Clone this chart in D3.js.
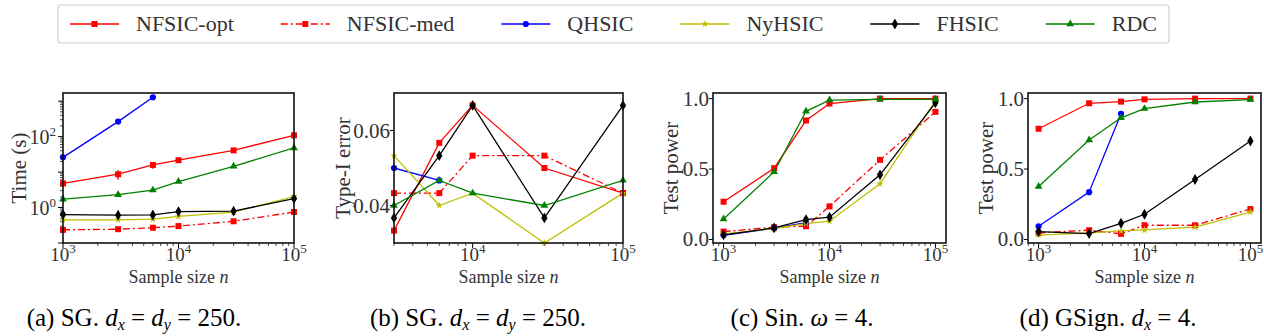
<!DOCTYPE html>
<html>
<head>
<meta charset="utf-8">
<script src="https://cdn.jsdelivr.net/npm/d3@7"></script>
<style>
  html, body { margin: 0; padding: 0; background: #fff; }
</style>
</head>
<body>
<svg id="chart" width="1264" height="336"></svg>
<script>
// sample sizes
const nFull = [1000, 3000, 6000, 10000, 30000, 100000];
const nType1 = [3000, 6000, 10000, 30000, 100000];
const nQhsic = [1000, 3000, 6000];
const nQhsicType1 = [3000, 6000];

const methods = ['NFSIC-opt', 'NFSIC-med', 'QHSIC', 'NyHSIC', 'FHSIC', 'RDC'];

// (a) runtime in seconds
const timeNfsicOpt = [4.8, 8.7, 15.9, 21.6, 41, 109];
const timeNfsicOptErr = [0.4, 2.6, 3.5, 3.0, 4, 8];
const timeNfsicMed = [0.235, 0.245, 0.27, 0.30, 0.41, 0.75];
const timeNfsicMedErr = [0.01, 0.03, 0.04, 0.05, 0.05, 0.04];
const timeQhsic = [26, 265, 1290];
const timeNyhsic = [0.45, 0.45, 0.47, 0.56, 0.74, 2.04];
const timeFhsic = [0.635, 0.61, 0.62, 0.77, 0.79, 1.79];
const timeRdc = [1.72, 2.3, 3.1, 5.4, 14.6, 48];

// (b) type-I error
const t1NfsicOpt = [0.0333, 0.0567, 0.0667, 0.05, 0.0433];
const t1NfsicMed = [0.0433, 0.0433, 0.0533, 0.0533, 0.0433];
const t1Qhsic = [0.05, 0.0467];
const t1Nyhsic = [0.0533, 0.04, 0.0433, 0.03, 0.0433];
const t1Fhsic = [0.0367, 0.0533, 0.0667, 0.0367, 0.0667];
const t1Rdc = [0.04, 0.0467, 0.0433, 0.04, 0.0467];

// (c) test power, Sin
const sinNfsicOpt = [0.268, 0.506, 0.845, 0.965, 1.0, 1.0];
const sinNfsicMed = [0.056, 0.087, 0.094, 0.235, 0.565, 0.906];
const sinQhsic = [0.03, 0.08, 0.12];
const sinNyhsic = [0.04, 0.078, 0.113, 0.13, 0.395, 0.984];
const sinFhsic = [0.033, 0.082, 0.141, 0.158, 0.459, 0.97];
const sinRdc = [0.146, 0.48, 0.91, 0.99, 0.995, 0.995];

// (d) test power, GSign
const gsNfsicOpt = [0.786, 0.967, 0.979, 0.995, 1.0, 1.0];
const gsNfsicMed = [0.047, 0.066, 0.04, 0.101, 0.101, 0.216];
const gsQhsic = [0.094, 0.336, 0.892];
const gsNyhsic = [0.031, 0.047, 0.061, 0.068, 0.087, 0.195];
const gsFhsic = [0.056, 0.042, 0.115, 0.179, 0.426, 0.699];
const gsRdc = [0.376, 0.706, 0.864, 0.929, 0.976, 0.993];

const yTicksTime = [1, 100];
const yTicksType1 = [0.04, 0.06];
const yTicksPower = [0, 0.5, 1.0];
const captions = ['(a) SG. ', '(b) SG. ', '(c) Sin. ', '(d) GSign. '];

const FONT = '"Liberation Serif", "DejaVu Serif", serif';

const styles = {
    'NFSIC-opt': { color: '#ff0000', dash: null, symbol: d3.symbolSquare, size: 36 },
    'NFSIC-med': { color: '#ff0000', dash: '7,3,2,3', symbol: d3.symbolSquare, size: 36 },
    'QHSIC': { color: '#0000ff', dash: null, symbol: d3.symbolCircle, size: 30 },
    'NyHSIC': { color: '#bfbf00', dash: null, symbol: d3.symbolStar, size: 18 },
    'FHSIC': { color: '#000000', dash: null, symbol: d3.symbolDiamond, size: 34 },
    'RDC': { color: '#008000', dash: null, symbol: d3.symbolTriangle, size: 26 },
};

const svg = d3.select('#chart').attr('font-family', FONT);
const plotTop = 93, plotBottom = 243;

const panels = [
    {
        x0: 63, x1: 294, xDomain: [1e3, 1e5], yLog: true, yDomain: [0.1, 1700],
        yTicks: yTicksTime, ylabel: 'Time (s)', ylabelX: 19, capX: 134,
        series: [
            { m: 'NFSIC-opt', n: nFull, v: timeNfsicOpt, e: timeNfsicOptErr },
            { m: 'NFSIC-med', n: nFull, v: timeNfsicMed, e: timeNfsicMedErr },
            { m: 'QHSIC', n: nQhsic, v: timeQhsic },
            { m: 'NyHSIC', n: nFull, v: timeNyhsic },
            { m: 'FHSIC', n: nFull, v: timeFhsic },
            { m: 'RDC', n: nFull, v: timeRdc },
        ],
    },
    {
        x0: 394, x1: 623, xDomain: [3000, 1e5], yLog: false, yDomain: [0.03, 0.07],
        yTicks: yTicksType1, ylabel: 'Type-I error', ylabelX: 343, capX: 478, yFmt: d3.format('.2f'),
        series: [
            { m: 'NFSIC-opt', n: nType1, v: t1NfsicOpt },
            { m: 'NFSIC-med', n: nType1, v: t1NfsicMed },
            { m: 'QHSIC', n: nQhsicType1, v: t1Qhsic },
            { m: 'NyHSIC', n: nType1, v: t1Nyhsic },
            { m: 'FHSIC', n: nType1, v: t1Fhsic },
            { m: 'RDC', n: nType1, v: t1Rdc },
        ],
    },
    {
        x0: 713, x1: 946, xDomain: [Math.pow(10, 2.9), Math.pow(10, 5.1)], yLog: false, yDomain: [-0.025, 1.04],
        yTicks: yTicksPower, ylabel: 'Test power', ylabelX: 671, capX: 802, yFmt: d3.format('.1f'),
        series: [
            { m: 'NFSIC-opt', n: nFull, v: sinNfsicOpt },
            { m: 'NFSIC-med', n: nFull, v: sinNfsicMed },
            { m: 'QHSIC', n: nQhsic, v: sinQhsic },
            { m: 'NyHSIC', n: nFull, v: sinNyhsic },
            { m: 'FHSIC', n: nFull, v: sinFhsic },
            { m: 'RDC', n: nFull, v: sinRdc },
        ],
    },
    {
        x0: 1028, x1: 1261, xDomain: [Math.pow(10, 2.9), Math.pow(10, 5.1)], yLog: false, yDomain: [-0.025, 1.04],
        yTicks: yTicksPower, ylabel: 'Test power', ylabelX: 986, capX: 1108, yFmt: d3.format('.1f'),
        series: [
            { m: 'NFSIC-opt', n: nFull, v: gsNfsicOpt },
            { m: 'NFSIC-med', n: nFull, v: gsNfsicMed },
            { m: 'QHSIC', n: nQhsic, v: gsQhsic },
            { m: 'NyHSIC', n: nFull, v: gsNyhsic },
            { m: 'FHSIC', n: nFull, v: gsFhsic },
            { m: 'RDC', n: nFull, v: gsRdc },
        ],
    },
];

function powLabel(sel, exp) {
    sel.text('10');
    sel.append('tspan').attr('dy', -8).attr('font-size', 13).text(exp);
}

panels.forEach((p, pi) => {
    const g = svg.append('g');
    const x = d3.scaleLog().domain(p.xDomain).range([p.x0, p.x1]);
    const y = (p.yLog ? d3.scaleLog() : d3.scaleLinear()).domain(p.yDomain).range([plotBottom, plotTop]);

    const clipId = 'clip' + pi;
    svg.append('clipPath').attr('id', clipId)
        .append('rect').attr('x', p.x0).attr('y', plotTop).attr('width', p.x1 - p.x0).attr('height', plotBottom - plotTop);

    // X axis ticks (log, major + minor)
    const xMinor = [];
    for (let k = 2; k <= 5; k++) for (let j = 1; j <= 9; j++) {
        const v = j * Math.pow(10, k);
        if (v >= p.xDomain[0] - 1e-6 && v <= p.xDomain[1] + 1e-6) xMinor.push(v);
    }
    xMinor.forEach(v => {
        const major = Math.abs(Math.log10(v) - Math.round(Math.log10(v))) < 1e-9;
        g.append('line').attr('x1', x(v)).attr('x2', x(v))
            .attr('y1', plotBottom).attr('y2', plotBottom + (major ? 5 : 3))
            .attr('stroke', '#000').attr('stroke-width', major ? 1 : 0.7);
        if (major) {
            g.append('text').attr('x', x(v)).attr('y', 261)
                .attr('text-anchor', 'middle').attr('font-size', 19).attr('fill', '#333')
                .call(powLabel, Math.round(Math.log10(v)));
        }
    });

    // Y axis ticks
    if (p.yLog) {
        for (let k = -1; k <= 3; k++) for (let j = 1; j <= 9; j++) {
            const v = j * Math.pow(10, k);
            if (v < p.yDomain[0] || v > p.yDomain[1]) continue;
            g.append('line').attr('x1', p.x0 - (j === 1 ? 5 : 3)).attr('x2', p.x0)
                .attr('y1', y(v)).attr('y2', y(v))
                .attr('stroke', '#000').attr('stroke-width', j === 1 ? 1 : 0.7);
        }
        p.yTicks.forEach(v => {
            g.append('text').attr('x', p.x0 - 7).attr('y', y(v) + 7)
                .attr('text-anchor', 'end').attr('font-size', 20).attr('fill', '#333')
                .call(powLabel, Math.round(Math.log10(v)));
        });
    } else {
        p.yTicks.forEach(v => {
            g.append('line').attr('x1', p.x0 - 4).attr('x2', p.x0)
                .attr('y1', y(v)).attr('y2', y(v)).attr('stroke', '#000');
            g.append('text').attr('x', p.x0 - 4).attr('y', y(v) + 7)
                .attr('text-anchor', 'end').attr('font-size', 21).attr('fill', '#333')
                .text(p.yFmt(v));
        });
    }

    // Series
    const plot = g.append('g').attr('clip-path', `url(#${clipId})`);
    p.series.forEach(s => {
        const st = styles[s.m];
        const pts = s.n.map((n, i) => ({ n, v: s.v[i], e: s.e ? s.e[i] : 0 }));
        if (s.e) {
            plot.selectAll(null).data(pts).enter().append('line')
                .attr('x1', d => x(d.n)).attr('x2', d => x(d.n))
                .attr('y1', d => y(d.v - d.e)).attr('y2', d => y(d.v + d.e))
                .attr('stroke', st.color).attr('stroke-width', 1.3);
        }
        plot.append('path').datum(pts)
            .attr('d', d3.line().x(d => x(d.n)).y(d => y(d.v)))
            .attr('fill', 'none').attr('stroke', st.color).attr('stroke-width', 1.3)
            .attr('stroke-dasharray', st.dash);
        g.selectAll(null).data(pts).enter().append('path')
            .attr('transform', d => `translate(${x(d.n)},${y(d.v)})`)
            .attr('d', d3.symbol().type(st.symbol).size(st.size))
            .attr('fill', st.color);
    });

    // Frame
    g.append('rect').attr('x', p.x0).attr('y', plotTop)
        .attr('width', p.x1 - p.x0).attr('height', plotBottom - plotTop)
        .attr('fill', 'none').attr('stroke', '#111').attr('stroke-width', 1.6);

    // Labels
    const xl = g.append('text').attr('x', (p.x0 + p.x1) / 2).attr('y', 283)
        .attr('text-anchor', 'middle').attr('font-size', 18).attr('fill', '#333')
        .text('Sample size ');
    xl.append('tspan').attr('font-style', 'italic').text('n');

    g.append('text').attr('transform', `translate(${p.ylabelX},${(plotTop + plotBottom) / 2}) rotate(-90)`)
        .attr('text-anchor', 'middle').attr('dy', '0.35em').attr('font-size', 21).attr('fill', '#333')
        .text(p.ylabel);

    // Caption
    const cap = g.append('text').attr('x', p.capX).attr('y', 326)
        .attr('text-anchor', 'middle').attr('font-size', 25).attr('fill', '#000')
        .text(captions[pi]);
    if (pi < 2) {
        cap.append('tspan').attr('font-style', 'italic').text('d');
        cap.append('tspan').attr('font-style', 'italic').attr('font-size', 16).attr('dy', 4).text('x');
        cap.append('tspan').attr('dy', -4).text(' = ');
        cap.append('tspan').attr('font-style', 'italic').text('d');
        cap.append('tspan').attr('font-style', 'italic').attr('font-size', 16).attr('dy', 4).text('y');
        cap.append('tspan').attr('dy', -4).text(' = 250.');
    } else if (pi === 2) {
        cap.append('tspan').attr('font-style', 'italic').text('ω');
        cap.append('tspan').text(' = 4.');
    } else {
        cap.append('tspan').attr('font-style', 'italic').text('d');
        cap.append('tspan').attr('font-style', 'italic').attr('font-size', 16).attr('dy', 4).text('x');
        cap.append('tspan').attr('dy', -4).text(' = 4.');
    }
});

// Legend
const legend = svg.append('g');
const legBox = legend.append('rect').attr('y', 5).attr('height', 38).attr('rx', 3)
    .attr('fill', '#fff').attr('stroke', '#d0d0d0').attr('stroke-width', 1.2);
let lx = 70;
const ly = 24;
const legGap = 47;
methods.forEach(m => {
    const st = styles[m];
    legend.append('line').attr('x1', lx).attr('x2', lx + 49).attr('y1', ly).attr('y2', ly)
        .attr('stroke', st.color).attr('stroke-width', 1.5).attr('stroke-dasharray', st.dash);
    legend.append('path').attr('transform', `translate(${lx + 24.5},${ly})`)
        .attr('d', d3.symbol().type(st.symbol).size(st.size)).attr('fill', st.color);
    const t = legend.append('text').attr('x', lx + 66).attr('y', ly + 7)
        .attr('font-size', 22).attr('fill', '#333').text(m);
    lx += 66 + t.node().getComputedTextLength() + legGap;
});
legBox.attr('x', 58).attr('width', lx - legGap + 12 - 58);
</script>
</body>
</html>
